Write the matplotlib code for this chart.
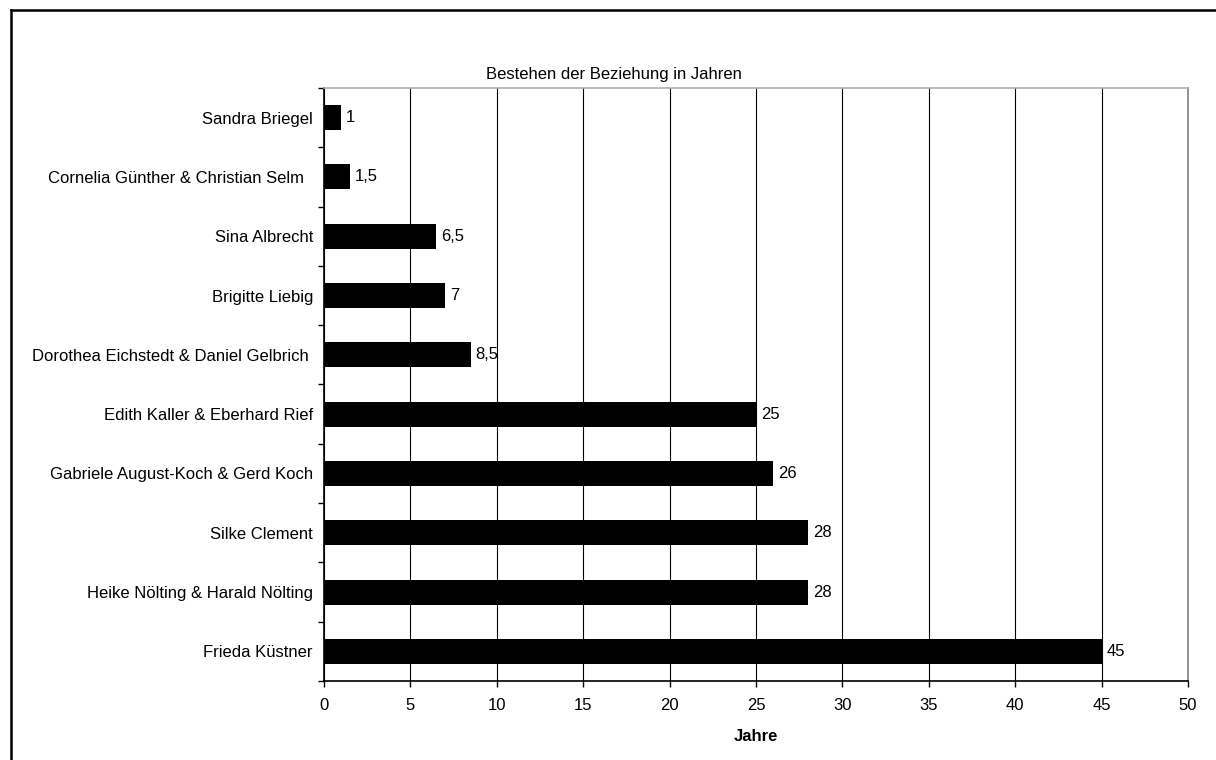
import matplotlib
matplotlib.use("Agg")
import matplotlib.pyplot as plt
from matplotlib.lines import Line2D
import numpy as np

plt.rcParams['font.family'] = ['Liberation Sans', 'DejaVu Sans']

names = [
    "Sandra Briegel",
    "Cornelia Günther & Christian Selm  ",
    "Sina Albrecht",
    "Brigitte Liebig",
    "Dorothea Eichstedt & Daniel Gelbrich ",
    "Edith Kaller & Eberhard Rief",
    "Gabriele August-Koch & Gerd Koch",
    "Silke Clement",
    "Heike Nölting & Harald Nölting",
    "Frieda Küstner",
]
years = [1, 1.5, 6.5, 7, 8.5, 25, 26, 28, 28, 45]
value_labels = ["1", "1,5", "6,5", "7", "8,5", "25", "26", "28", "28", "45"]
x_ticks = [0, 5, 10, 15, 20, 25, 30, 35, 40, 45, 50]

title = "Bestehen der Beziehung in Jahren"
xlabel = "Jahre"

FS = 12

W, H = 1216, 760
fig = plt.figure(figsize=(W / 100, H / 100), dpi=100)
ax = fig.add_axes([324 / W, 1 - 681 / H, (1188 - 324) / W, (681 - 88) / H])

n = len(names)
pos = np.arange(n)[::-1]  # first name at top
ax.barh(pos, years, height=0.42, color='black', zorder=3)
for p, v, lab in zip(pos, years, value_labels):
    ax.annotate(lab, (v, p), xytext=(3.5, 0), textcoords='offset points',
                va='center', ha='left', fontsize=FS, color='black')

ax.set_xlim(0, 50)
ax.set_ylim(-0.5, n - 0.5)
ax.set_xticks(x_ticks)
ax.set_xticklabels([str(t) for t in x_ticks], fontsize=FS)
ax.set_yticks(pos)
ax.set_yticklabels(names, fontsize=FS)
ax.tick_params(axis='y', length=0, pad=8)
ax.set_yticks(np.arange(-0.5, n, 1.0), minor=True)
ax.tick_params(axis='y', which='minor', length=4, direction='out', width=1)
ax.tick_params(axis='x', length=4, direction='out', width=1, pad=8)

ax.xaxis.grid(True, color='black', linewidth=0.8, zorder=0)
ax.set_axisbelow(True)
for s in ['left', 'bottom']:
    ax.spines[s].set_linewidth(1.2)
    ax.spines[s].set_color('black')
ax.spines['right'].set_color('#808080')
ax.spines['right'].set_linewidth(1.2)
ax.spines['top'].set_color('#b0b0b0')
ax.spines['top'].set_linewidth(1.2)

ax.set_xlabel(xlabel, fontsize=FS, fontweight='bold', labelpad=12)
fig.text(614 / W, 1 - 74 / H, title, ha='center', va='center', fontsize=FS)

# figure border (top and left visible)
fig.add_artist(Line2D([11 / W, 1.0], [1 - 10 / H, 1 - 10 / H], color='black',
                      linewidth=1.8, transform=fig.transFigure))
fig.add_artist(Line2D([11 / W, 11 / W], [0.0, 1 - 10 / H], color='black',
                      linewidth=1.8, transform=fig.transFigure))

fig.savefig("out.png", dpi=100)
